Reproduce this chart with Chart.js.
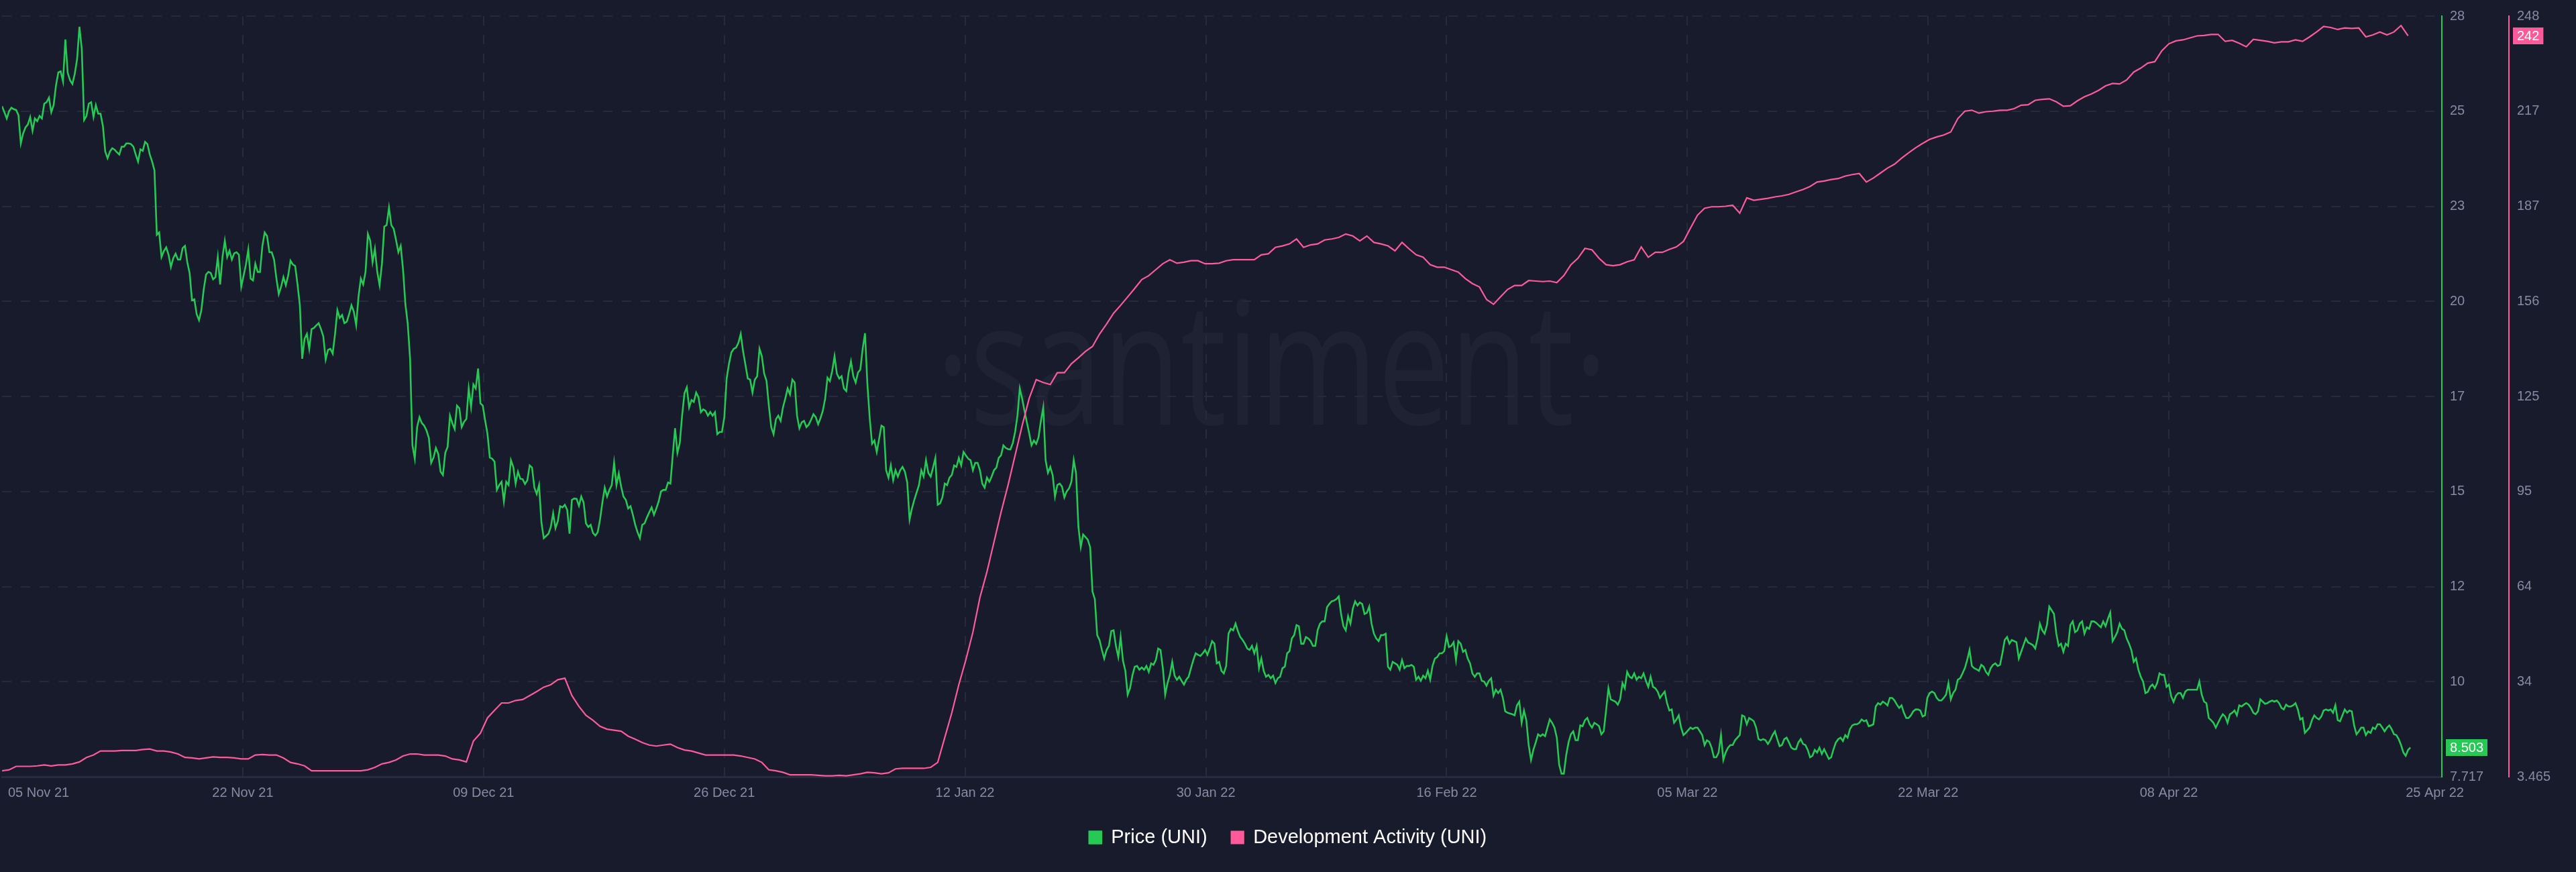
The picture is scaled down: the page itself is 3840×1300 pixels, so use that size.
<!DOCTYPE html>
<html>
<head>
<meta charset="utf-8">
<title>UNI price vs development activity</title>
<script src="https://cdn.jsdelivr.net/npm/chart.js@4.4.1/dist/chart.umd.min.js"></script>
<style>
  html, body { margin: 0; padding: 0; background: #181b2b; }
  canvas { display: block; }
</style>
</head>
<body>
<canvas id="chart" width="3840" height="1300"></canvas>
<script>
// x axis: days counted from 05 Nov 21
const xTickLabels = ['05 Nov 21', '22 Nov 21', '09 Dec 21', '26 Dec 21', '12 Jan 22', '30 Jan 22',
  '16 Feb 22', '05 Mar 22', '22 Mar 22', '08 Apr 22', '25 Apr 22'];
const xTickDays = [2.6, 17.11, 34.22, 51.33, 68.44, 85.56, 102.67, 119.78, 136.89, 154, 172.9];

const priceTickLabels = ['7.717', '10', '12', '15', '17', '20', '23', '25', '28'];
const devTickLabels = ['3.465', '34', '64', '95', '125', '156', '187', '217', '248'];
const PRICE_MIN = 7.717, PRICE_MAX = 28.197;
const DEV_MIN = 3.465, DEV_MAX = 248.345;

const PRICE_STEP = 1 / 6; // price sampled every 4 hours
const DEV_STEP = 0.5;     // dev activity sampled every 12 hours

// Price (UNI)
const priceNovDec = [
  25.77, 25.61, 25.44, 25.64, 25.73, 25.69, 25.67, 25.53, 24.77, 25.04,
  25.20, 25.28, 25.48, 25.11, 25.44, 25.37, 25.51, 25.44, 25.84, 25.88,
  26.00, 25.61, 25.80, 26.33, 26.68, 26.71, 26.44, 27.57, 26.67, 26.47,
  26.37, 26.64, 27.04, 27.91, 27.31, 25.40, 25.51, 25.84, 25.88, 25.48,
  25.80, 25.57, 25.57, 25.24, 24.55, 24.37, 24.55, 24.64, 24.60, 24.53,
  24.47, 24.68, 24.68, 24.77, 24.77, 24.75, 24.68, 24.47, 24.28, 24.61,
  24.57, 24.81, 24.75, 24.47, 24.28, 24.04, 22.31, 22.37, 21.71, 21.87,
  21.97, 21.77, 21.44, 21.68, 21.80, 21.64, 21.64, 21.95, 22.01, 21.57,
  21.27, 20.55, 20.57, 20.17, 20.01, 20.28, 20.84, 21.24, 21.31, 21.28,
  21.11, 21.17, 21.71, 20.97, 21.71, 22.15, 21.71, 21.88, 21.64, 21.81,
  21.84, 21.77, 20.91, 21.21, 21.51, 21.91, 21.13, 21.08, 21.53, 21.31,
  21.31, 22.00, 22.37, 22.28, 21.84, 21.84, 21.64, 21.13, 20.71, 20.91,
  21.17, 20.95, 21.21, 21.61, 21.51, 21.47, 20.97, 20.41, 18.97, 19.51,
  19.64, 19.24, 19.77, 19.80, 19.87, 19.93, 19.77, 19.57, 18.95, 19.21,
  19.24, 19.11, 19.64, 20.28, 20.07, 20.15, 19.93, 19.97, 20.17, 20.41,
  20.24, 19.88, 20.64, 21.13, 20.97, 21.31, 22.33, 22.15, 21.57, 21.93,
  21.31, 20.95, 21.53, 22.53, 22.57, 23.04, 22.57, 22.47, 22.17, 21.84,
  22.01, 21.37, 20.44, 19.91, 18.97, 16.64, 16.28, 17.13, 17.40, 17.24,
  17.17, 17.04, 16.84, 16.17, 16.31, 16.57, 16.41, 15.93, 15.84, 16.44,
  16.60, 17.44, 17.24, 17.08, 17.71, 17.64, 17.13, 17.27, 17.35, 18.17,
  17.67, 18.28, 18.17, 18.71, 17.77, 17.71, 17.31, 16.95, 16.31, 16.28,
  16.20, 15.44
];
const priceDecJan = [
  15.57, 15.66, 15.13, 15.66, 15.57, 16.24, 16.06, 15.61, 15.93, 15.74,
  15.73, 15.60, 15.70, 16.10, 16.04, 15.50, 15.33, 15.57, 14.57, 14.14,
  14.20, 14.26, 14.44, 14.81, 14.41, 14.60, 15.00, 14.97, 15.04, 14.90,
  14.26, 15.17, 15.21, 15.20, 15.01, 15.26, 15.10, 14.54, 14.44, 14.50,
  14.28, 14.21, 14.30, 14.64, 15.10, 15.50, 15.26, 15.44, 15.57, 16.17,
  15.57, 15.88, 15.53, 15.26, 15.17, 14.94, 15.00, 14.77, 14.50, 14.30,
  14.14, 14.50, 14.54, 14.70, 14.84, 14.97, 14.77, 14.94, 15.13, 15.40,
  15.44, 15.44, 15.64, 15.61, 16.37, 17.10, 16.44, 16.70, 17.44, 18.04,
  18.20, 17.66, 17.86, 17.81, 18.06, 17.93, 17.53, 17.61, 17.57, 17.44,
  17.54, 17.44, 17.53, 16.94, 17.00, 17.00, 17.40, 18.44, 18.84, 19.14,
  19.24, 19.27, 19.40, 19.64, 19.17, 18.81, 18.44, 18.41, 18.06, 18.41,
  18.50, 19.24, 19.04, 18.57, 18.37, 17.70, 17.13, 16.94, 17.34, 17.44,
  17.30, 17.66, 17.90, 18.17, 18.01, 18.41, 18.33, 17.44, 17.10, 17.26,
  17.30, 17.13, 17.20, 17.33, 17.48, 17.40, 17.21, 17.37, 17.57, 17.90,
  18.46, 18.37, 18.64, 19.04, 18.57, 18.44, 18.50, 18.17, 18.10, 18.60,
  18.90, 18.50, 18.33, 18.60, 18.68, 19.24, 19.66, 18.30, 17.37, 16.68,
  16.77, 16.46, 16.81, 17.17, 17.13, 15.97, 15.77, 16.10, 15.70, 15.97,
  15.80, 15.97, 16.06, 15.93, 15.64, 14.64, 14.94, 15.17, 15.37, 15.57,
  15.97, 15.80, 16.24, 15.90, 15.80, 16.04, 16.30, 15.04, 15.08, 15.24,
  15.61, 15.57, 15.77, 15.84, 16.10, 16.06, 16.30, 16.10, 16.46, 16.37,
  16.28, 16.24, 15.97, 16.17, 16.17, 15.97, 15.61, 15.50, 15.77
];
const priceJanFeb = [
  15.66, 15.80, 15.97, 16.04, 16.30, 16.37, 16.64, 16.57, 16.54, 16.53,
  16.70, 17.00, 17.44, 18.17, 17.90, 17.57, 17.26, 16.97, 16.64, 16.77,
  16.68, 16.86, 17.30, 17.66, 16.24, 15.90, 16.06, 15.84, 15.26, 15.57,
  15.61, 15.53, 15.24, 15.40, 15.48, 15.66, 16.24, 15.88, 14.44, 13.90,
  14.24, 14.17, 14.10, 13.90, 12.70, 12.50, 11.53, 11.40, 11.13, 10.90,
  11.13, 11.24, 11.64, 11.66, 11.24, 10.94, 11.48, 10.84, 10.57, 9.93,
  10.10, 10.44, 10.68, 10.70, 10.60, 10.66, 10.60, 10.70, 10.54, 10.77,
  10.73, 10.86, 11.17, 11.13, 10.64, 9.93, 10.24, 10.46, 10.81, 10.44,
  10.33, 10.41, 10.30, 10.20, 10.33, 10.41, 10.64, 10.86, 11.04, 11.00,
  10.97, 11.04, 11.13, 11.00, 11.17, 11.37, 11.30, 10.77, 10.81, 10.57,
  10.50, 10.70, 11.57, 11.70, 11.66, 11.84, 11.64, 11.48, 11.40, 11.30,
  11.17, 11.13, 11.24, 11.04, 11.24, 10.64, 10.90, 10.57, 10.41, 10.46,
  10.37, 10.44, 10.24, 10.37, 10.41, 10.64, 10.68, 11.04, 11.10, 11.44,
  11.53, 11.80, 11.77, 11.30, 11.30, 11.48, 11.44, 11.37, 11.24, 11.24,
  11.66, 11.84, 11.90, 11.90, 12.28, 12.37, 12.44, 12.46, 12.50, 12.57,
  12.10, 11.77, 11.66, 12.04, 11.84, 12.24, 12.44, 12.33, 12.41, 12.37,
  12.10, 12.13, 12.30, 11.84, 11.57, 11.44, 11.37, 11.53, 11.53, 11.57,
  10.68, 10.60, 10.81, 10.77, 10.73, 10.60, 10.86, 10.64, 10.70, 10.70,
  10.73, 10.68, 10.33, 10.41, 10.30, 10.44, 10.37, 10.57, 10.33, 10.70,
  10.90, 10.94, 11.04, 11.04, 11.10, 11.50, 11.21, 11.24, 11.34, 10.86,
  11.37, 11.30, 11.08, 11.13, 10.90, 10.77, 10.50, 10.41
];
const priceFebMar = [
  10.50, 10.50, 10.30, 10.28, 10.17, 10.30, 10.37, 9.90, 10.06, 9.97,
  10.06, 9.84, 9.48, 9.44, 9.42, 9.40, 9.37, 9.64, 9.74, 9.17,
  9.50, 9.24, 8.57, 8.17, 8.44, 8.64, 8.86, 8.81, 8.86, 8.81,
  9.04, 9.26, 9.17, 9.04, 8.77, 8.04, 7.80, 7.80, 8.30, 8.64,
  8.86, 8.94, 8.70, 8.70, 9.10, 9.08, 9.24, 9.30, 9.13, 9.04,
  9.17, 9.13, 9.08, 8.86, 8.94, 9.50, 10.10, 9.80, 9.77, 9.74,
  9.66, 9.80, 10.24, 10.10, 10.54, 10.41, 10.37, 10.50, 10.33, 10.41,
  10.37, 10.50, 10.30, 10.14, 10.41, 10.14, 10.10, 10.01, 9.84, 9.93,
  10.01, 9.70, 9.50, 9.53, 9.17, 9.26, 9.37, 9.04, 8.84, 8.90,
  8.97, 9.04, 9.00, 9.04, 9.04, 8.94, 8.84, 8.57, 8.70, 8.66,
  8.50, 8.24, 8.24, 8.37, 8.84, 8.17, 8.37, 8.50, 8.57, 8.57,
  8.70, 8.77, 8.84, 9.37, 9.34, 9.13, 9.30, 9.26, 9.21, 9.04,
  8.73, 8.70, 8.73, 8.70, 8.60, 8.70, 8.84, 8.94, 8.73, 8.54,
  8.57, 8.73, 8.77, 8.64, 8.50, 8.46, 8.46, 8.64, 8.73, 8.60,
  8.57, 8.44, 8.24, 8.28, 8.44, 8.37, 8.50, 8.33, 8.46, 8.33,
  8.20, 8.24, 8.46, 8.64, 8.73, 8.77, 8.68, 8.84, 8.77, 9.00,
  9.10, 9.13, 9.13, 9.17, 9.26, 9.21, 9.24, 9.08, 9.10, 9.13,
  9.61, 9.70, 9.66, 9.74, 9.70, 9.64, 9.84, 9.84, 9.77, 9.66,
  9.57, 9.64, 9.44, 9.30, 9.30, 9.37, 9.48, 9.53, 9.53, 9.50,
  9.34, 9.37, 9.84, 9.97, 10.01, 9.97, 9.84, 9.77, 9.77, 9.84,
  9.93, 10.24, 9.80, 9.97, 10.06, 10.33, 10.37, 10.50, 10.64
];
const priceMarApr = [
  10.86, 11.13, 10.70, 10.64, 10.61, 10.57, 10.73, 10.68, 10.54, 10.46,
  10.64, 10.73, 10.77, 10.70, 10.73, 11.04, 11.40, 11.48, 11.30, 11.40,
  11.37, 11.34, 10.90, 11.08, 11.26, 11.44, 11.33, 11.30, 11.26, 11.17,
  11.44, 11.84, 11.66, 11.57, 11.80, 12.30, 12.20, 12.10, 11.57, 11.24,
  11.30, 11.08, 11.30, 11.24, 11.80, 11.90, 11.61, 11.66, 11.84, 11.90,
  11.57, 11.74, 11.70, 11.90, 11.90, 11.86, 11.80, 11.74, 11.90, 11.77,
  11.97, 12.14, 11.37, 11.48, 11.61, 11.84, 11.70, 11.66, 11.44, 11.30,
  11.13, 10.81, 10.90, 10.60, 10.41, 10.28, 9.97, 10.00, 10.14, 10.20,
  10.10, 10.24, 10.50, 10.46, 10.46, 10.14, 10.20, 9.88, 9.73, 9.90,
  9.97, 9.97, 9.84, 10.01, 10.06, 10.06, 10.06, 10.06, 10.06, 10.28,
  9.93, 9.74, 9.70, 9.30, 9.24, 9.17, 9.04, 9.17, 9.30, 9.40,
  9.34, 9.17, 9.40, 9.44, 9.50, 9.37, 9.64, 9.61, 9.66, 9.70,
  9.66, 9.57, 9.44, 9.40, 9.48, 9.80, 9.74, 9.68, 9.70, 9.74,
  9.77, 9.74, 9.77, 9.70, 9.57, 9.53, 9.66, 9.61, 9.61, 9.64,
  9.70, 9.53, 9.26, 9.30, 8.90, 8.97, 9.04, 9.24, 9.37, 9.30,
  9.26, 9.34, 9.50, 9.53, 9.50, 9.53, 9.44, 9.64, 9.24, 9.21,
  9.37, 9.53, 9.44, 9.50, 9.48, 9.10, 8.86, 8.94, 9.04, 9.04,
  8.84, 8.94, 8.90, 9.04, 9.00, 9.13, 9.13, 9.04, 8.94, 9.04,
  9.10, 9.00, 8.86, 8.84, 8.73, 8.57, 8.37, 8.28, 8.44, 8.503
];

// Development Activity (UNI)
const devNovDec = [
  5.38, 5.70, 6.81, 6.81, 6.81, 6.97, 7.29, 6.97, 7.29, 7.29,
  7.61, 8.24, 9.68, 10.47, 11.75, 11.75, 11.75, 11.91, 11.91, 11.91,
  12.23, 12.39, 11.75, 11.75, 11.44, 10.80, 9.68, 9.52, 9.20, 9.52,
  9.84, 9.68, 9.68, 9.52, 9.20, 9.20, 10.47, 10.63, 10.47, 10.47,
  9.52, 8.08, 7.61, 6.97, 5.38, 5.38, 5.38, 5.38, 5.38, 5.38,
  5.38, 5.38, 5.70, 6.49, 7.61, 8.08, 8.88, 10.15, 10.80, 10.80,
  10.47, 10.47, 10.47, 10.15, 9.20, 8.88, 8.24, 14.94, 17.49, 22.43,
  24.82
];
const devDecJan = [
  27.22, 27.22, 28.01, 28.33, 29.61, 30.88, 32.32, 33.11, 34.71, 35.19,
  29.61, 26.10, 23.23, 21.64, 19.72, 18.77, 18.45, 18.13, 16.54, 15.58,
  14.46, 13.67, 13.35, 13.67, 13.98, 12.87, 12.07, 11.75, 11.11, 10.47,
  10.47, 10.47, 10.47, 10.47, 10.15, 9.68, 9.20, 8.08, 5.70, 5.38,
  4.89, 4.10, 4.10, 4.10, 4.10, 3.94, 3.78, 3.78, 3.94, 3.78,
  4.10, 4.41, 4.89, 4.73, 4.41, 4.73, 6.01, 6.17, 6.17, 6.17,
  6.17, 6.49, 8.08, 16.06, 24.03, 33.11, 41.09, 50.01, 61.17, 69.46
];
const devJanFeb = [
  79.03, 88.60, 97.37, 106.93, 116.50, 125.27, 131.32, 130.37, 129.73, 133.55,
  133.55, 136.42, 138.34, 140.41, 142.01, 145.99, 149.18, 152.69, 155.24, 157.95,
  160.66, 163.53, 164.80, 166.72, 168.63, 169.91, 168.79, 169.11, 169.59, 169.59,
  168.63, 168.63, 168.79, 169.59, 169.91, 169.91, 169.91, 169.91, 171.50, 171.82,
  173.89, 174.37, 175.01, 176.60, 173.89, 174.69, 175.01, 176.28, 176.60, 177.08,
  178.20, 177.56, 175.96, 177.56, 175.49, 175.01, 174.37, 172.78, 175.49, 173.41,
  171.50, 170.70, 168.31, 167.52, 167.52, 166.72, 165.92, 163.85, 162.25
];
const devFebMar = [
  161.14, 157.15, 155.56, 157.95, 160.34, 161.62, 161.62, 163.21, 163.05, 162.89,
  163.05, 162.57, 164.80, 168.31, 170.38, 173.57, 173.09, 170.38, 168.31, 167.99,
  168.31, 169.27, 169.91, 174.05, 170.70, 172.30, 172.30, 173.25, 174.05, 175.80,
  180.11, 184.25, 186.49, 186.96, 186.96, 187.12, 187.44, 184.89, 189.83, 189.04,
  189.36, 189.68, 190.15, 190.47, 190.95, 191.75, 192.54, 193.50, 194.93, 195.25,
  195.73, 196.05, 196.85, 197.33, 197.65, 194.93, 196.21, 197.81, 199.40, 200.68,
  202.59, 204.34, 205.94, 207.37, 208.65, 209.44, 210.08, 211.04, 215.34, 217.73
];
const devMarApr = [
  218.05, 217.10, 217.58, 217.73, 218.05, 218.05, 218.53, 219.65, 219.81, 221.24,
  221.56, 221.72, 220.76, 219.33, 219.49, 221.08, 222.36, 223.31, 224.43, 225.87,
  226.66, 226.50, 227.78, 230.33, 231.60, 233.20, 233.68, 237.19, 239.42, 240.37,
  240.69, 241.33, 241.97, 242.13, 242.45, 242.45, 240.21, 240.53, 239.58, 238.46,
  240.85, 240.53, 240.21, 239.74, 240.05, 240.05, 240.69, 240.21, 241.65, 243.24,
  245.00, 244.68, 244.04, 244.52, 244.36, 244.52, 241.65, 242.29, 243.24, 242.29,
  243.24, 245.31, 242
];

const price = [].concat(priceNovDec, priceDecJan, priceJanFeb, priceFebMar, priceMarApr);
const dev = [].concat(devNovDec, devDecJan, devJanFeb, devFebMar, devMarApr);

const GREEN = '#26c953';
const PINK = '#ff5b9b';
const GRID = '#262a3b';
const TICK = '#858ca2';
const FONT = 'Liberation Sans, Arial, sans-serif';

Chart.defaults.font.family = FONT;

// spread the labelled ticks evenly between min and max
function evenTicks(min, max, labels) {
  return function (scale) {
    const n = labels.length - 1;
    scale.ticks = labels.map((_, i) => ({ value: min + (max - min) * i / n }));
  };
}

const watermark = {
  id: 'watermark',
  beforeDraw(chart) {
    const ctx = chart.ctx;
    ctx.save();
    ctx.font = '400 255px "Open Sans"';
    ctx.fillStyle = '#1e2233';
    ctx.textAlign = 'center';
    ctx.textBaseline = 'alphabetic';
    ctx.translate(1896, 633);
    ctx.scale(0.75, 1);
    ctx.fillText('\u00b7santiment\u00b7', 0, 0);
    ctx.restore();
  }
};

function drawBadge(ctx, scale, value, text, color) {
  const y = scale.getPixelForValue(value);
  ctx.font = '20px ' + FONT;
  const w = ctx.measureText(text).width + 12;
  const h = 25;
  const x = scale.left + 6;
  ctx.fillStyle = color;
  ctx.fillRect(x, Math.round(y - h / 2), w, h);
  ctx.fillStyle = '#ffffff';
  ctx.textAlign = 'left';
  ctx.textBaseline = 'middle';
  ctx.fillText(text, x + 6, y + 1);
}

const lastValues = {
  id: 'lastValues',
  afterDraw(chart) {
    const ctx = chart.ctx;
    ctx.save();
    const p = price[price.length - 1];
    const d = dev[dev.length - 1];
    drawBadge(ctx, chart.scales.price, p, p.toFixed(3), GREEN);
    drawBadge(ctx, chart.scales.dev, d, String(Math.round(d)), PINK);
    ctx.restore();
  }
};

new Chart(document.getElementById('chart'), {
  type: 'line',
  data: {
    datasets: [
      {
        label: 'Price (UNI)',
        data: price.map((v, i) => ({ x: i * PRICE_STEP, y: v })),
        yAxisID: 'price',
        borderColor: GREEN,
        backgroundColor: GREEN,
        borderWidth: 2.6,
        pointRadius: 0,
        tension: 0,
        order: 1
      },
      {
        label: 'Development Activity (UNI)',
        data: dev.map((v, i) => ({ x: i * DEV_STEP, y: v })),
        yAxisID: 'dev',
        borderColor: PINK,
        backgroundColor: PINK,
        borderWidth: 2.2,
        pointRadius: 0,
        tension: 0,
        order: 0
      }
    ]
  },
  options: {
    responsive: false,
    animation: false,
    events: [],
    layout: {
      autoPadding: false,
      padding: { top: 14, right: 0, bottom: 27, left: 0 }
    },
    scales: {
      x: {
        type: 'linear',
        min: 0,
        max: 173.4,
        afterBuildTicks: (scale) => { scale.ticks = xTickDays.map(v => ({ value: v })); },
        afterFit: (scale) => { scale.height = 40; },
        grid: {
          color: (c) => (c.index === 0 || c.index === xTickDays.length - 1) ? 'transparent' : GRID,
          lineWidth: 2,
          drawTicks: false
        },
        border: { display: true, color: '#272b3d', width: 3, dash: [14, 14] },
        ticks: {
          color: TICK,
          font: { size: 20 },
          padding: 12,
          maxRotation: 0,
          autoSkip: false,
          callback: (v, i) => xTickLabels[i]
        }
      },
      price: {
        type: 'linear',
        position: 'right',
        min: PRICE_MIN,
        max: PRICE_MAX,
        bounds: 'data',
        afterBuildTicks: evenTicks(PRICE_MIN, PRICE_MAX, priceTickLabels),
        afterFit: (scale) => { scale.width = 100; },
        grid: { color: GRID, lineWidth: 2, drawTicks: false },
        border: { display: true, color: GREEN, width: 2, dash: [14, 14] },
        ticks: {
          color: TICK,
          font: { size: 20 },
          padding: 12,
          autoSkip: false,
          callback: (v, i) => priceTickLabels[i]
        }
      },
      dev: {
        type: 'linear',
        position: 'right',
        min: DEV_MIN,
        max: DEV_MAX,
        bounds: 'data',
        afterBuildTicks: evenTicks(DEV_MIN, DEV_MAX, devTickLabels),
        afterFit: (scale) => { scale.width = 100; },
        grid: { color: 'transparent', drawTicks: false },
        border: { display: true, color: PINK, width: 2 },
        ticks: {
          color: TICK,
          font: { size: 20 },
          padding: 12,
          autoSkip: false,
          callback: (v, i) => devTickLabels[i]
        }
      }
    },
    plugins: {
      tooltip: { enabled: false },
      legend: {
        position: 'bottom',
        labels: {
          color: '#ffffff',
          font: { size: 29 },
          boxWidth: 18,
          boxHeight: 18,
          padding: 36,
          sort: (a, b) => a.datasetIndex - b.datasetIndex
        }
      }
    }
  },
  plugins: [watermark, lastValues]
});
</script>
</body>
</html>
